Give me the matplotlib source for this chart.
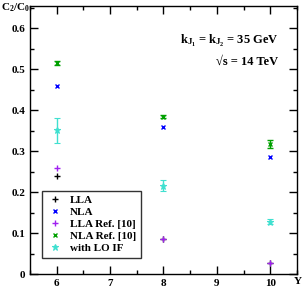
import numpy as np
import matplotlib.pyplot as plt
from matplotlib.lines import Line2D

plt.rcParams['font.family'] = ['Liberation Serif', 'DejaVu Serif']
plt.rcParams['font.weight'] = 'bold'
plt.rcParams['mathtext.fontset'] = 'custom'
plt.rcParams['mathtext.rm'] = 'Liberation Serif:bold'
plt.rcParams['mathtext.it'] = 'Liberation Serif:bold'
plt.rcParams['mathtext.bf'] = 'Liberation Serif:bold'

Y = [6, 8, 10]
lla = [0.239, 0.085, 0.026]
nla = [0.459, 0.359, 0.286]
lla_ref = [0.260, 0.085, 0.026]
nla_ref = [0.514, 0.384, 0.317]
nla_ref_err = [0.005, 0.003, 0.009]
lo_if = [0.351, 0.216, 0.128]
lo_if_err = [0.030, 0.014, 0.007]

fig = plt.figure(figsize=(3.03, 2.87), dpi=100)
ax = fig.add_axes([0.099, 0.045, 0.881, 0.934])

ax.plot(Y, lla, '+', color='black', ms=5, mew=1, zorder=3)
ax.plot(Y, nla, 'x', color='#0000ff', ms=3.5, mew=1, zorder=3)
ax.plot(Y, lla_ref, '+', color='#a020f0', ms=5, mew=1, zorder=4)
ax.errorbar(Y, nla_ref, yerr=nla_ref_err, fmt='x', color='#00a000', ms=3.5, mew=1,
            elinewidth=1, capsize=2.5, zorder=3)
ax.errorbar(Y, lo_if, yerr=lo_if_err, fmt='*', color='#40e0d0', ms=4.5, mew=0.8,
            elinewidth=1, capsize=2.5, zorder=3)

handles = [
    Line2D([], [], ls='', marker='+', color='black', ms=5, mew=1),
    Line2D([], [], ls='', marker='x', color='#0000ff', ms=3.5, mew=1),
    Line2D([], [], ls='', marker='+', color='#a020f0', ms=5, mew=1),
    Line2D([], [], ls='', marker='x', color='#00a000', ms=3.5, mew=1),
    Line2D([], [], ls='', marker='*', color='#40e0d0', ms=4.5, mew=0.8),
]
labels = ['LLA', 'NLA', 'LLA Ref. [10]', 'NLA Ref. [10]', 'with LO IF']

ax.set_xlim(5.5, 10.5)
ax.set_ylim(0, 0.654)
ax.set_xticks([6, 7, 8, 9, 10])
ax.set_xticks(np.arange(5.5, 10.6, 0.5), minor=True)
ax.set_yticks([0, 0.1, 0.2, 0.3, 0.4, 0.5, 0.6])
ax.set_yticklabels(['0', '0.1', '0.2', '0.3', '0.4', '0.5', '0.6'])
ax.set_yticks(np.arange(0, 0.66, 0.05), minor=True)
ax.tick_params(which='both', direction='in', top=True, right=True, labelsize=8, width=1)
ax.tick_params(which='major', length=6)
ax.tick_params(which='minor', length=3)
for lab in ax.get_xticklabels() + ax.get_yticklabels():
    lab.set_fontweight('bold')
for s in ax.spines.values():
    s.set_linewidth(1)

fig.text(0.003, 0.995, r'C$_2$/C$_0$', ha='left', va='top', fontsize=8, fontweight='bold')
fig.text(0.998, 0.005, 'Y', ha='right', va='bottom', fontsize=8, fontweight='bold')

ax.text(0.93, 0.87, r'k$_{\mathrm{J}_1}$ = k$_{\mathrm{J}_2}$ = 35 GeV', transform=ax.transAxes,
        ha='right', va='center', fontsize=9, fontweight='bold')
ax.text(0.93, 0.79, '√s = 14 TeV', transform=ax.transAxes,
        ha='right', va='center', fontsize=9, fontweight='bold')

leg = ax.legend(handles, labels, loc='lower left', bbox_to_anchor=(0.025, 0.04),
                frameon=True, fancybox=False, edgecolor='black', borderpad=0.4,
                labelspacing=0.2, handlelength=1.5, handletextpad=0.6,
                prop={'weight': 'bold', 'size': 8})
leg.get_frame().set_linewidth(1)

fig.savefig('out.png', dpi=100)
